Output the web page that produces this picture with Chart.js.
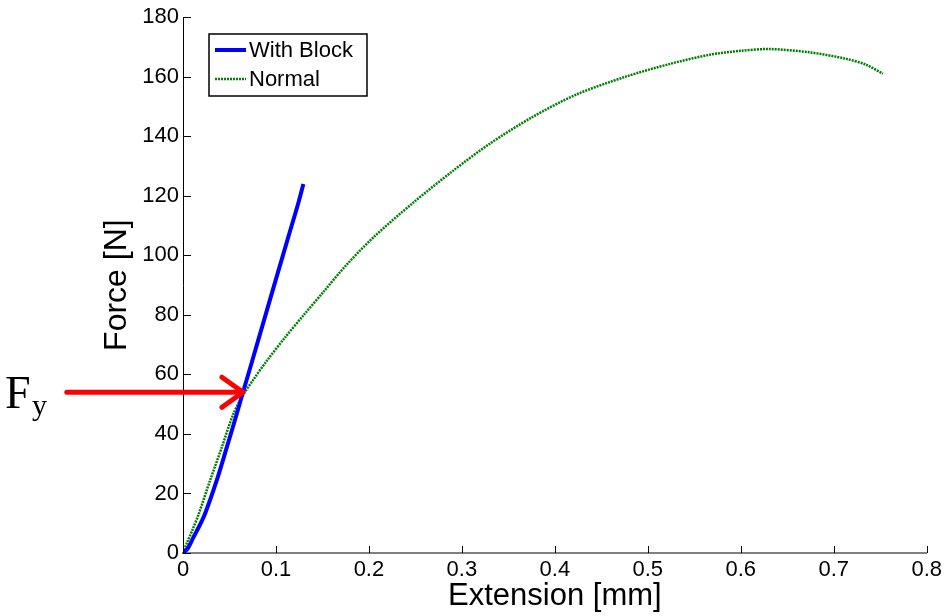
<!DOCTYPE html>
<html>
<head>
<meta charset="utf-8">
<script src="https://cdn.jsdelivr.net/npm/chart.js@4.4.1/dist/chart.umd.min.js"></script>
<style>
  html, body { margin: 0; padding: 0; background: #fff; }
  #wrap { width: 946px; height: 616px; }
</style>
</head>
<body>
<div id="wrap"><canvas id="chart"></canvas></div>
<script>
// --- DATA ---
const withBlockExt   = [0, 0.005, 0.0108, 0.0175, 0.0237, 0.0362, 0.047, 0.0577, 0.0645, 0.0685, 0.08, 0.1, 0.115, 0.124, 0.1295];
const withBlockForce = [0, 1.5, 5, 9, 13.2, 24.3, 35.4, 46.6, 54, 58.2, 70.5, 92, 108, 117.5, 124];

const normalExt   = [0, 0.004, 0.0105, 0.017, 0.029, 0.0416, 0.054, 0.0645, 0.0756, 0.09, 0.11, 0.13, 0.151, 0.175, 0.2047,
                     0.2477, 0.29, 0.33, 0.375, 0.423, 0.477, 0.5237, 0.5667, 0.6, 0.631, 0.674, 0.7136, 0.735, 0.753];
const normalForce = [0, 3.2, 8, 13.2, 24.3, 35.4, 46.6, 53, 58.2, 64.5, 72.5, 80, 87.7, 96.5, 106,
                     117.7, 128.3, 137.5, 146.3, 154, 160.1, 164.3, 167.4, 168.7, 169.3, 168.2, 166, 164, 161];

const xTicks = [0, 0.1, 0.2, 0.3, 0.4, 0.5, 0.6, 0.7, 0.8];
const xTickLabels = ['0', '0.1', '0.2', '0.3', '0.4', '0.5', '0.6', '0.7', '0.8'];
const yTicks = [0, 20, 40, 60, 80, 100, 120, 140, 160, 180];

// yield point marker (arrow from left margin to the crossing)
const fyArrowFrom = [-0.125, 54];
const fyArrowTo   = [0.0645, 54];

const toXY = (xs, ys) => xs.map((x, i) => ({ x: x, y: ys[i] }));

const SANS = "'Liberation Sans', Arial, sans-serif";

// inward tick marks, boxed legend, Fy arrow
const extrasPlugin = {
    id: 'extras',
    afterDraw(chart) {
        const ctx = chart.ctx;
        const xs = chart.scales.x, ys = chart.scales.y;
        const area = chart.chartArea;
        ctx.save();

        // ticks pointing into the plot
        ctx.strokeStyle = '#000';
        ctx.lineWidth = 1;
        xTicks.forEach(v => {
            const px = Math.round(xs.getPixelForValue(v)) + 0.5;
            ctx.beginPath();
            ctx.moveTo(px, area.bottom);
            ctx.lineTo(px, area.bottom - 7);
            ctx.stroke();
        });
        yTicks.forEach(v => {
            const py = Math.round(ys.getPixelForValue(v)) + 0.5;
            ctx.beginPath();
            ctx.moveTo(area.left, py);
            ctx.lineTo(area.left + 8, py);
            ctx.stroke();
        });

        // legend box
        const lx = 209, ly = 34, lw = 158, lh = 62;
        ctx.fillStyle = '#fff';
        ctx.fillRect(lx, ly, lw, lh);
        ctx.lineWidth = 1.5;
        ctx.strokeStyle = '#000';
        ctx.strokeRect(lx, ly, lw, lh);
        ctx.font = '22px ' + SANS;
        ctx.textBaseline = 'middle';
        ctx.fillStyle = '#000';
        chart.data.datasets.forEach((ds, i) => {
            const cy = ly + 16 + i * 29;
            ctx.beginPath();
            ctx.strokeStyle = ds.borderColor;
            ctx.lineWidth = ds.legendWidth;
            ctx.setLineDash(ds.borderDash || []);
            ctx.moveTo(lx + 6, cy);
            ctx.lineTo(lx + 37, cy);
            ctx.stroke();
            ctx.setLineDash([]);
            ctx.fillText(ds.label, lx + 40, cy + 1);
        });

        // red arrow
        const x0 = xs.getPixelForValue(fyArrowFrom[0]);
        const x1 = xs.getPixelForValue(fyArrowTo[0]);
        const y1 = ys.getPixelForValue(fyArrowTo[1]);
        ctx.strokeStyle = '#ff0000';
        ctx.lineWidth = 5;
        ctx.lineCap = 'round';
        ctx.lineJoin = 'round';
        ctx.beginPath();
        ctx.moveTo(x0, y1);
        ctx.lineTo(x1 - 2, y1);
        ctx.stroke();
        ctx.beginPath();
        ctx.moveTo(x1 - 21, y1 - 15);
        ctx.lineTo(x1, y1);
        ctx.lineTo(x1 - 21, y1 + 15);
        ctx.stroke();

        // F_y label
        ctx.fillStyle = '#000';
        ctx.textBaseline = 'alphabetic';
        ctx.textAlign = 'left';
        ctx.font = "46px 'Liberation Serif', 'Times New Roman', serif";
        ctx.fillText('F', 5, 408);
        ctx.font = "30px 'Liberation Serif', 'Times New Roman', serif";
        ctx.fillText('y', 32, 415);

        ctx.restore();
    }
};

new Chart(document.getElementById('chart'), {
    type: 'scatter',
    data: {
        datasets: [
            {
                label: 'With Block',
                data: toXY(withBlockExt, withBlockForce),
                showLine: true,
                borderColor: '#0000ff',
                borderWidth: 4,
                legendWidth: 4,
                pointRadius: 0,
                tension: 0.3
            },
            {
                label: 'Normal',
                data: toXY(normalExt, normalForce),
                showLine: true,
                borderColor: '#007f00',
                borderWidth: 2.5,
                legendWidth: 2.5,
                borderDash: [2, 1],
                pointRadius: 0,
                tension: 0.3
            }
        ]
    },
    options: {
        responsive: true,
        maintainAspectRatio: false,
        animation: false,
        layout: { padding: { top: 13, right: 19, left: 0, bottom: 0 } },
        plugins: {
            legend: { display: false },
            tooltip: { enabled: false }
        },
        scales: {
            x: {
                type: 'linear',
                min: 0,
                max: 0.8,
                afterBuildTicks: s => { s.ticks = xTicks.map(v => ({ value: v })); },
                afterFit: s => { s.height = 63; },
                grid: { display: false, drawTicks: false },
                border: { display: true, color: '#808080', width: 2 },
                ticks: {
                    color: '#000',
                    padding: 4,
                    maxRotation: 0,
                    font: { family: SANS, size: 22 },
                    callback: (v) => {
                        const i = xTicks.findIndex(t => Math.abs(t - v) < 1e-9);
                        return i >= 0 ? xTickLabels[i] : '';
                    }
                },
                title: {
                    display: true,
                    text: 'Extension [mm]',
                    color: '#000',
                    font: { family: SANS, size: 31 },
                    padding: { top: 0, bottom: 1 }
                }
            },
            y: {
                type: 'linear',
                min: 0,
                max: 180,
                afterBuildTicks: s => { s.ticks = yTicks.map(v => ({ value: v })); },
                afterFit: s => { s.width = 183; },
                grid: { display: false, drawTicks: false },
                border: { display: true, color: '#000', width: 1 },
                ticks: {
                    color: '#000',
                    padding: 4,
                    font: { family: SANS, size: 22 },
                    callback: v => String(v)
                },
                title: {
                    display: true,
                    text: 'Force [N]',
                    color: '#000',
                    font: { family: SANS, size: 32 },
                    padding: { top: 98, bottom: 0 }
                }
            }
        }
    },
    plugins: [extrasPlugin]
});
</script>
</body>
</html>
